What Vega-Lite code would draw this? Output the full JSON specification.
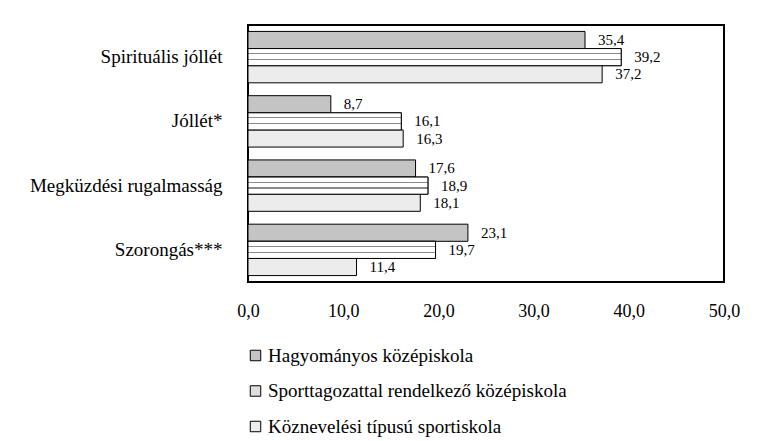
{
  "$schema": "https://vega.github.io/schema/vega-lite/v6.json",
  "width": 476,
  "height": 257,
  "autosize": "none",
  "padding": {"left": 248, "top": 25, "right": 33, "bottom": 159},
  "background": "white",
  "data": {
    "values": [
      {"measure": "Spirituális jóllét", "series": "Hagyományos középiskola", "value": 35.4},
      {"measure": "Spirituális jóllét", "series": "Sporttagozattal rendelkező középiskola", "value": 39.2},
      {"measure": "Spirituális jóllét", "series": "Köznevelési típusú sportiskola", "value": 37.2},
      {"measure": "Jóllét*", "series": "Hagyományos középiskola", "value": 8.7},
      {"measure": "Jóllét*", "series": "Sporttagozattal rendelkező középiskola", "value": 16.1},
      {"measure": "Jóllét*", "series": "Köznevelési típusú sportiskola", "value": 16.3},
      {"measure": "Megküzdési rugalmasság", "series": "Hagyományos középiskola", "value": 17.6},
      {"measure": "Megküzdési rugalmasság", "series": "Sporttagozattal rendelkező középiskola", "value": 18.9},
      {"measure": "Megküzdési rugalmasság", "series": "Köznevelési típusú sportiskola", "value": 18.1},
      {"measure": "Szorongás***", "series": "Hagyományos középiskola", "value": 23.1},
      {"measure": "Szorongás***", "series": "Sporttagozattal rendelkező középiskola", "value": 19.7},
      {"measure": "Szorongás***", "series": "Köznevelési típusú sportiskola", "value": 11.4}
    ]
  },
  "config": {
    "font": "Liberation Serif",
    "view": {"stroke": "#000", "strokeWidth": 2},
    "locale": {"number": {"decimal": ",", "thousands": " ", "grouping": [3], "currency": ["", " Ft"]}}
  },
  "encoding": {
    "y": {
      "field": "measure",
      "type": "nominal",
      "sort": null,
      "scale": {"paddingInner": 0.2, "paddingOuter": 0.1},
      "axis": {"title": null, "ticks": false, "domain": false, "labelFontSize": 19, "labelPadding": 26, "labelColor": "#000", "labelLimit": 400}
    },
    "yOffset": {
      "field": "series",
      "type": "nominal",
      "sort": null,
      "scale": {"paddingInner": 0, "paddingOuter": 0, "domain": ["Hagyományos középiskola", "Sporttagozattal rendelkező középiskola", "Köznevelési típusú sportiskola"]}
    },
    "x": {
      "field": "value",
      "type": "quantitative",
      "scale": {"domain": [0, 50], "nice": false},
      "axis": {"title": null, "values": [0, 10, 20, 30, 40, 50], "format": ".1f", "grid": false, "ticks": false, "domain": false, "labelFontSize": 18, "labelPadding": 20, "labelColor": "#000", "labelFlush": false}
    }
  },
  "layer": [
    {
      "mark": {"type": "bar", "stroke": "#000", "strokeWidth": 1, "fillOpacity": 1},
      "encoding": {
        "fill": {
          "field": "series",
          "type": "nominal",
          "sort": null,
          "scale": {
            "domain": ["Hagyományos középiskola", "Sporttagozattal rendelkező középiskola", "Köznevelési típusú sportiskola"],
            "range": ["#c4c4c4", "#dedede", "#ececec"]
          },
          "legend": {
            "title": null,
            "orient": "none",
            "legendX": -2,
            "legendY": 321,
            "direction": "vertical",
            "symbolType": "square",
            "symbolSize": 110,
            "symbolStrokeColor": "#000",
            "symbolStrokeWidth": 1,
            "labelFontSize": 19,
            "labelColor": "#000",
            "labelLimit": 500,
            "rowPadding": 15.5,
            "labelOffset": 3
          }
        }
      }
    },
    {
      "transform": [{"filter": "datum.series === 'Sporttagozattal rendelkező középiskola'"}],
      "mark": {
        "type": "bar",
        "stroke": "#000",
        "strokeWidth": 1,
        "fillOpacity": 1,
        "fill": {"gradient": "linear", "x1": 0, "y1": 0, "x2": 0, "y2": 1, "stops": [
          {"offset": 0, "color": "#ffffff"},
          {"offset": 0.26, "color": "#ffffff"},
          {"offset": 0.26, "color": "#8a8a8a"},
          {"offset": 0.33, "color": "#8a8a8a"},
          {"offset": 0.33, "color": "#ffffff"},
          {"offset": 0.6, "color": "#ffffff"},
          {"offset": 0.6, "color": "#8a8a8a"},
          {"offset": 0.67, "color": "#8a8a8a"},
          {"offset": 0.67, "color": "#ffffff"},
          {"offset": 1, "color": "#ffffff"}
        ]}
      },
      "encoding": {}
    },
    {
      "mark": {"type": "text", "align": "left", "baseline": "middle", "dx": 13, "fontSize": 15, "color": "#000"},
      "encoding": {
        "text": {"field": "value", "type": "quantitative", "format": ".1f"}
      }
    }
  ]
}
